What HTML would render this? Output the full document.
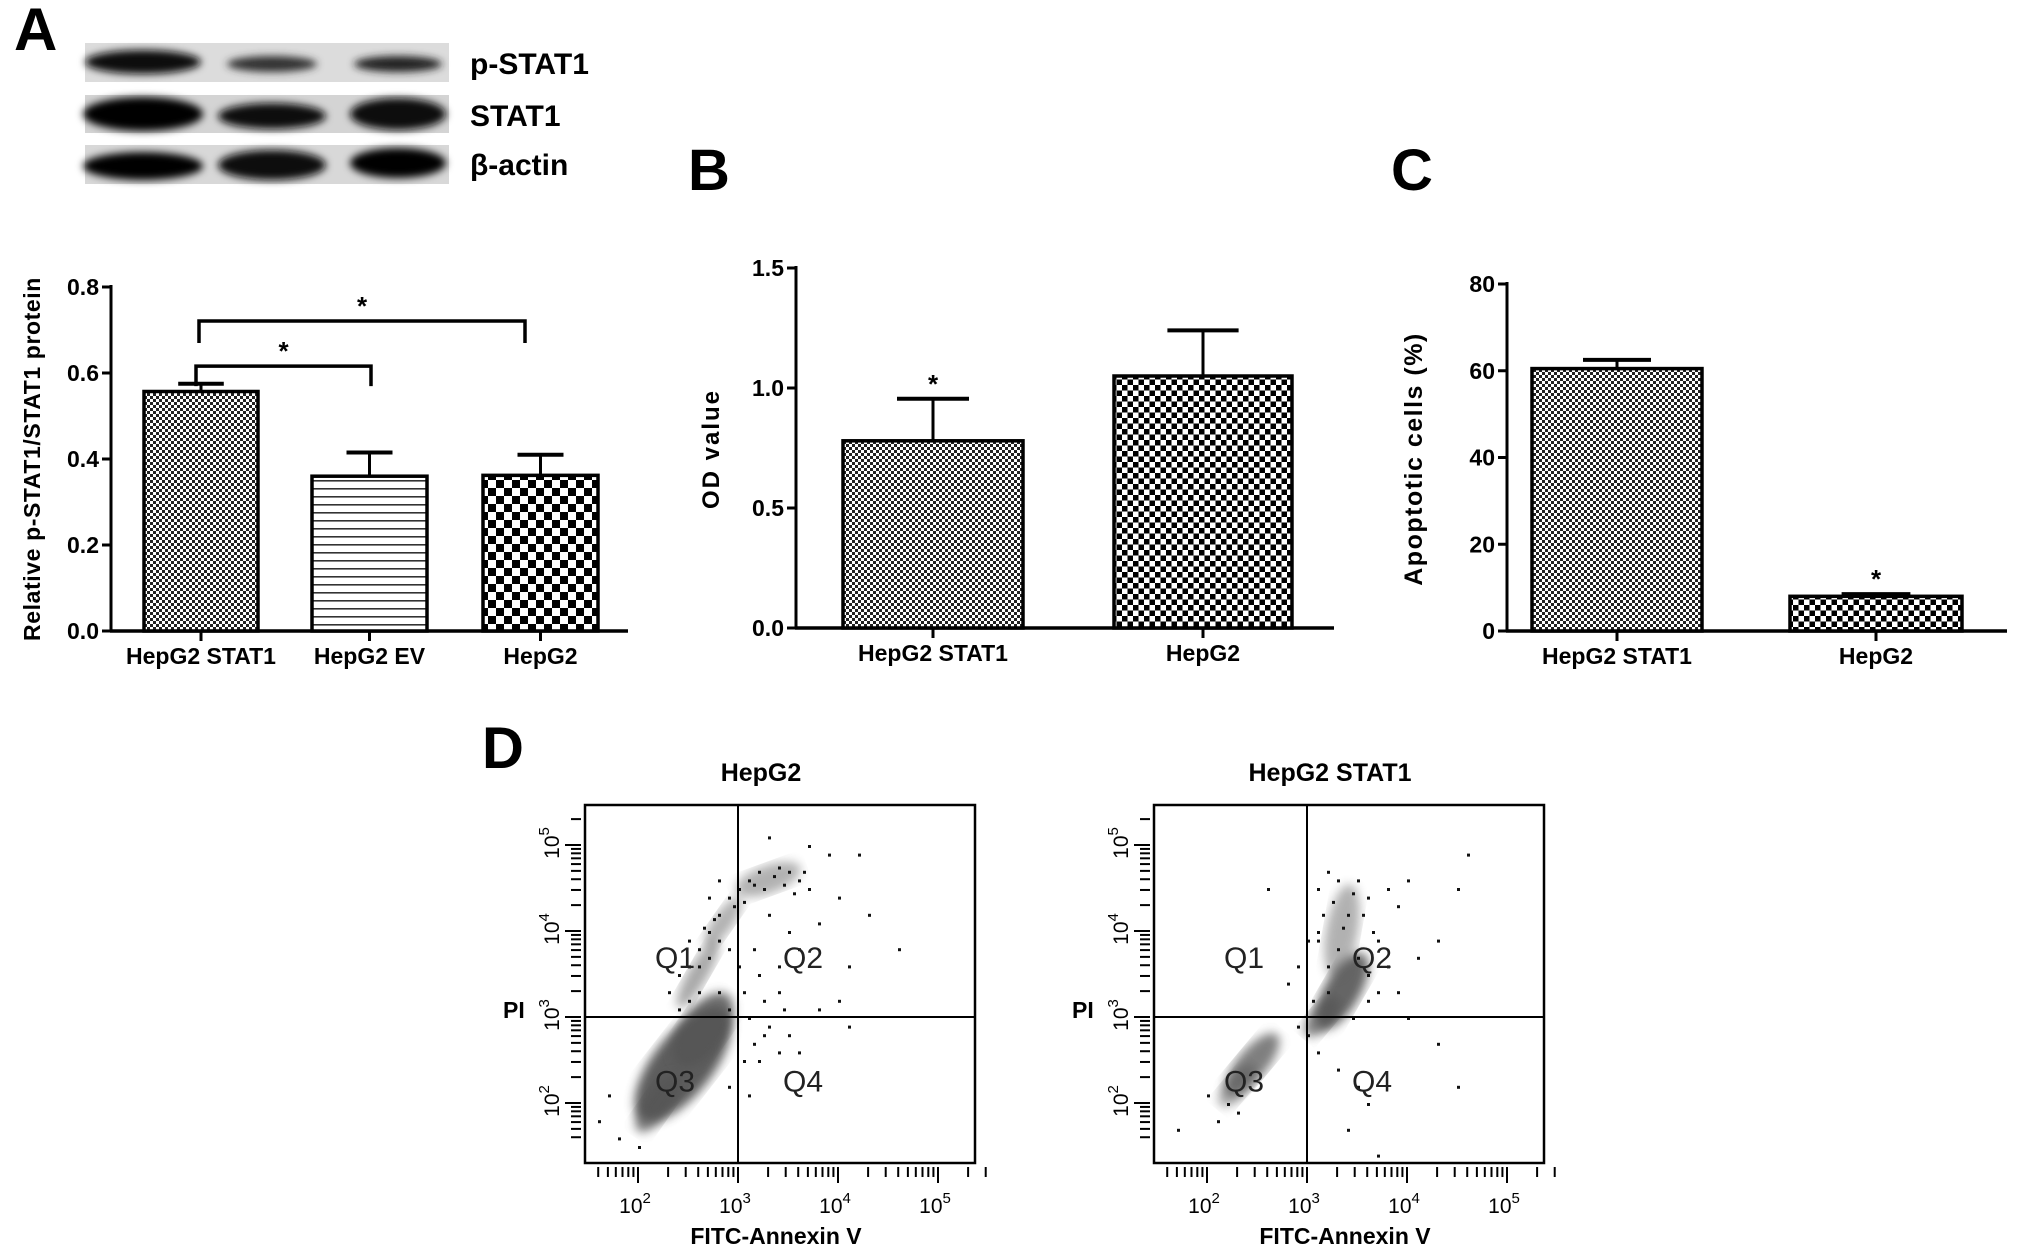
<!DOCTYPE html>
<html><head><meta charset="utf-8"><style>
html,body{margin:0;padding:0;background:#fff;}
svg{display:block;font-family:"Liberation Sans",Arial,sans-serif;font-weight:bold;}
</style></head><body>
<svg id="fig" width="2031" height="1252" viewBox="0 0 2031 1252" xmlns="http://www.w3.org/2000/svg">
<defs>
<pattern id="pFine" width="6" height="6" patternUnits="userSpaceOnUse"><rect width="6" height="6" fill="#fff"/><rect width="3" height="3" fill="#222"/><rect x="3" y="3" width="3" height="3" fill="#222"/></pattern>
<pattern id="pLines" width="6" height="8" patternUnits="userSpaceOnUse"><rect width="6" height="8" fill="#fff"/><rect y="0" width="6" height="1.6" fill="#333"/></pattern>
<pattern id="pBig" width="16" height="16" patternUnits="userSpaceOnUse"><rect width="16" height="16" fill="#fff"/><rect width="8" height="8" fill="#000"/><rect x="8" y="8" width="8" height="8" fill="#000"/></pattern>
<pattern id="pMid" width="11" height="11" patternUnits="userSpaceOnUse"><rect width="11" height="11" fill="#fff"/><rect width="5.5" height="5.5" fill="#000"/><rect x="5.5" y="5.5" width="5.5" height="5.5" fill="#000"/></pattern>
<filter id="blur" x="-20%" y="-50%" width="140%" height="200%"><feGaussianBlur stdDeviation="4"/></filter>
<filter id="blur2"><feGaussianBlur stdDeviation="5"/></filter>
</defs>

<text x="14" y="50" font-size="60">A</text>
<text x="688" y="190" font-size="58">B</text>
<text x="1391" y="190" font-size="58">C</text>
<text x="482" y="768" font-size="58">D</text>

<g id="blot">
<rect x="85" y="43" width="364" height="39" fill="#dcdcdc"/>
<rect x="85" y="95" width="364" height="38" fill="#d4d4d4"/>
<rect x="85" y="145" width="364" height="39" fill="#d8d8d8"/>
<g filter="url(#blur)">
<ellipse cx="143" cy="62" rx="58" ry="12" fill="#111"/>
<ellipse cx="272" cy="64" rx="45" ry="8" fill="#333"/>
<ellipse cx="398" cy="64" rx="44" ry="8" fill="#222"/>
<ellipse cx="143" cy="114" rx="60" ry="17" fill="#000"/>
<ellipse cx="272" cy="116" rx="54" ry="13" fill="#111"/>
<ellipse cx="398" cy="114" rx="48" ry="16" fill="#0a0a0a"/>
<ellipse cx="143" cy="166" rx="60" ry="14" fill="#000"/>
<ellipse cx="272" cy="165" rx="54" ry="15" fill="#0a0a0a"/>
<ellipse cx="398" cy="163" rx="48" ry="15" fill="#000"/>
</g>
</g>
<text x="470" y="74" font-size="30">p-STAT1</text>
<text x="470" y="126" font-size="30">STAT1</text>
<text x="470" y="175" font-size="30">β-actin</text>

<g id="chartA"></g>
<g id="chartB"></g>
<g id="chartC"></g>
<g id="flow1"></g>
<g id="flow2"></g>
</svg>
<script>
const catsA = ["HepG2 STAT1", "HepG2 EV", "HepG2"];
const valsA = [0.557, 0.360, 0.362];
const errA = [0.018, 0.055, 0.048];
const ticksA = [0.0, 0.2, 0.4, 0.6, 0.8];
const tickLabelsA = ["0.0", "0.2", "0.4", "0.6", "0.8"];

const catsB = ["HepG2 STAT1", "HepG2"];
const valsB = [0.78, 1.05];
const errB = [0.175, 0.19];
const ticksB = [0.0, 0.5, 1.0, 1.5];
const tickLabelsB = ["0.0", "0.5", "1.0", "1.5"];

const catsC = ["HepG2 STAT1", "HepG2"];
const valsC = [60.5, 8.0];
const errC = [2.0, 0.5];
const ticksC = [0, 20, 40, 60, 80];
const tickLabelsC = ["0", "20", "40", "60", "80"];

const flowDecades = [2, 3, 4, 5];
const flowDecadeLabels = ["2", "3", "4", "5"];
const hepg2Blobs = [[2.45, 2.45, 0.3, 0.8, 38, 0.95],[2.65, 2.85, 0.22, 0.5, 35, 0.85],[2.2, 2.0, 0.14, 0.4, 35, 0.75],[2.6, 3.5, 0.1, 0.45, 30, 0.5],[2.85, 4.1, 0.1, 0.35, 35, 0.45],[3.3, 4.6, 0.14, 0.4, 70, 0.45]];
const hepg2Points = [[2.6,3.8],[2.7,4.0],[2.8,4.2],[2.9,4.4],[3.0,4.5],[3.1,4.6],[3.2,4.7],[3.4,4.75],[3.5,4.7],[3.6,4.6],[3.7,4.5],[3.3,4.2],[3.5,4.0],[3.6,3.8],[3.8,4.1],[4.0,4.4],[4.3,4.2],[4.1,3.6],[3.2,3.5],[3.4,3.3],[3.1,3.0],[3.3,2.9],[3.5,2.8],[3.8,3.1],[4.0,3.2],[3.2,2.5],[3.6,2.6],[2.4,3.5],[2.5,3.2],[2.6,3.6],[2.7,4.4],[3.9,4.9],[4.2,4.9],[4.6,3.8],[4.1,2.9],[1.6,1.8],[1.8,1.6],[2.0,1.5],[2.9,2.2],[3.1,2.1],[1.7,2.1],[3.3,5.1],[3.7,5.0],[2.9,3.8],[3.0,3.6],[3.4,3.6],[2.8,4.6],[2.5,3.9],[2.6,3.3],[2.7,3.7],[2.8,3.3],[2.9,3.1],[2.8,3.9],[2.95,4.3],[3.05,4.35],[3.15,4.55],[3.25,4.5],[3.35,4.65],[3.45,4.55],[3.55,4.45],[3.65,4.7],[3.15,3.8],[3.25,3.2],[3.45,3.1],[3.05,3.3],[3.15,2.7],[3.25,2.8],[3.4,2.6],[3.05,2.5],[2.4,3.1],[2.3,3.3],[2.5,3.6],[2.65,4.05],[2.75,4.15]];
const stat1Blobs = [[2.45, 2.45, 0.15, 0.45, 40, 0.75],[2.3, 2.2, 0.12, 0.3, 40, 0.5],[3.35, 3.3, 0.18, 0.5, 30, 0.9],[3.15, 3.0, 0.12, 0.28, 40, 0.7],[3.35, 4.0, 0.16, 0.55, 10, 0.45]];
const stat1Points = [[3.1,4.5],[3.2,4.7],[3.3,4.6],[3.5,4.6],[3.6,4.4],[3.8,4.5],[3.9,4.3],[4.0,4.6],[3.4,4.2],[3.7,3.9],[3.8,3.6],[4.1,3.7],[4.3,3.9],[4.5,4.5],[2.9,3.6],[2.8,3.4],[3.0,3.9],[2.6,4.5],[4.6,4.9],[3.1,2.6],[3.3,2.4],[3.5,2.2],[3.6,2.0],[3.4,1.7],[3.7,1.4],[4.5,2.2],[4.3,2.7],[2.0,2.1],[2.1,1.8],[1.7,1.7],[2.2,2.0],[2.3,1.9],[3.0,2.8],[3.2,3.6],[3.6,3.2],[3.9,3.3],[4.0,3.0],[3.15,4.2],[3.25,4.35],[3.45,4.45],[3.55,4.2],[3.1,3.9],[3.3,3.8],[3.5,3.7],[3.6,3.5],[3.2,3.3],[3.45,3.0],[3.7,3.3],[3.05,3.2],[2.9,2.9],[3.1,4.0],[3.35,4.05],[3.65,4.0]];

const NS = "http://www.w3.org/2000/svg";
function mk(parent, tag, attrs, text) {
  const e = document.createElementNS(NS, tag);
  for (const k in attrs) e.setAttribute(k, attrs[k]);
  if (text !== undefined) e.textContent = text;
  parent.appendChild(e);
  return e;
}

function barChart(g, cfg) {
  const y = v => cfg.y0 - (v - cfg.min) / (cfg.max - cfg.min) * (cfg.y0 - cfg.yTop);
  const ax = mk(g, "line", {x1: cfg.x0, y1: cfg.yTop - 2, x2: cfg.x0, y2: cfg.y0 + 1, stroke: "#000", "stroke-width": 3});
  
  
  const bx = mk(g, "line", {x1: cfg.x0 - 1, y1: cfg.y0, x2: cfg.xEnd, y2: cfg.y0, stroke: "#000", "stroke-width": 3.5});
  
  
  cfg.ticks.forEach((t, i) => {
    const ty = y(t);
    const tl = mk(g, "line", {x1: cfg.x0 - 9, y1: ty, x2: cfg.x0, y2: ty, stroke: "#000", "stroke-width": 3});
    
    
    const lab = mk(g, "text", {x: cfg.x0 - 12, y: ty + 8, "text-anchor": "end", "font-size": cfg.tfs}, cfg.tickLabels[i]);
    
    
  });
  cfg.cats.forEach((c, i) => {
    const x1 = cfg.bx[i][0], x2 = cfg.bx[i][1], cx = (x1 + x2) / 2;
    const top = y(cfg.vals[i]), et = y(cfg.vals[i] + cfg.errs[i]);
    const el = mk(g, "line", {x1: cx, y1: top, x2: cx, y2: et, stroke: "#000", "stroke-width": 3});
    
    
    const cap = mk(g, "line", {x1: cx - (x2 - x1) * 0.2, y1: et, x2: cx + (x2 - x1) * 0.2, y2: et, stroke: "#000", "stroke-width": 4});
    
    
    const r = mk(g, "rect", {x: x1, y: top, width: x2 - x1, height: cfg.y0 - top, fill: "url(#" + cfg.pats[i] + ")", stroke: "#000", "stroke-width": 3.5});
    
    
    const tk = mk(g, "line", {x1: cx, y1: cfg.y0, x2: cx, y2: cfg.y0 + 10, stroke: "#000", "stroke-width": 3});
    
    
    const lab = mk(g, "text", {x: cx, y: cfg.y0 + 33, "text-anchor": "middle", "font-size": cfg.fs}, c);
    
    
    if (cfg.stars && cfg.stars[i]) {
      const s = mk(g, "text", {x: cx, y: et - 6, "text-anchor": "middle", "font-size": 26}, "*");
      
      
    }
  });
  const yt = mk(g, "text", {x: 0, y: 0, "text-anchor": "middle", "font-size": cfg.ttfs, "letter-spacing": cfg.ls || 0, transform: "translate(" + cfg.titleX + "," + cfg.titleY + ") rotate(-90)"}, cfg.title);
  
  
  return y;
}

const gA = document.getElementById("chartA");
const yA = barChart(gA, {x0: 111, y0: 631, yTop: 287, xEnd: 628, min: 0, max: 0.8, ticks: ticksA, tickLabels: tickLabelsA,
  cats: catsA, vals: valsA, errs: errA, bx: [[144, 258], [312, 427], [483, 598]], pats: ["pFine", "pLines", "pBig"],
  fs: 23, tfs: 23, ttfs: 23, ls: 0.6, title: "Relative p-STAT1/STAT1 protein", titleX: 40, titleY: 459});
function bracket(g, xa, xb, v, drop, name) {
  const yy = yA(v);
  const p = mk(g, "path", {d: "M" + xa + "," + (yy + drop) + " L" + xa + "," + yy + " L" + xb + "," + yy + " L" + xb + "," + (yy + drop), fill: "none", stroke: "#000", "stroke-width": 3.5});
  
  
  const s = mk(g, "text", {x: (xa + xb) / 2, y: yy - 6, "text-anchor": "middle", "font-size": 26}, "*");
  
  
}
bracket(gA, 199, 525, 0.721, 22, "bracket-stat1-vs-hepg2");
bracket(gA, 196, 371, 0.616, 20, "bracket-stat1-vs-ev");

barChart(document.getElementById("chartB"), {x0: 796, y0: 628, yTop: 268, xEnd: 1334, min: 0, max: 1.5, ticks: ticksB, tickLabels: tickLabelsB,
  cats: catsB, vals: valsB, errs: errB, bx: [[843, 1023], [1114, 1292]], pats: ["pFine", "pMid"], stars: [true, false],
  fs: 23, tfs: 23, ttfs: 24, ls: 2, title: "OD value", titleX: 719, titleY: 449});

barChart(document.getElementById("chartC"), {x0: 1507, y0: 631, yTop: 284, xEnd: 2007, min: 0, max: 80, ticks: ticksC, tickLabels: tickLabelsC,
  cats: catsC, vals: valsC, errs: errC, bx: [[1532, 1702], [1790, 1962]], pats: ["pFine", "pMid"], stars: [false, true],
  fs: 23, tfs: 23, ttfs: 25, ls: 1.5, title: "Apoptotic cells (%)", titleX: 1422, titleY: 459});

function flow(g, left, title, blobs, pts) {
  const top = 805, bottom = 1163, W = 390, right = left + W;
  const fx = v => left + 153 + (v - 3) * 100;
  const fy = v => 1017 - (v - 3) * 86;
  const t = mk(g, "text", {x: left + 176, y: 781, "text-anchor": "middle", "font-size": 25}, title);
  
  
  const clip = "clip" + left;
  const cp = mk(g, "clipPath", {id: clip});
  mk(cp, "rect", {x: left, y: top, width: W, height: bottom - top});
  const cg = mk(g, "g", {"clip-path": "url(#" + clip + ")"});
  blobs.forEach(b => {
    const e = mk(cg, "ellipse", {cx: fx(b[0]), cy: fy(b[1]), rx: b[2] * 100, ry: b[3] * 86, fill: "#555", opacity: b[5], filter: "url(#blur2)", transform: "rotate(" + b[4] + " " + fx(b[0]) + " " + fy(b[1]) + ")"});
    
    
  });
  pts.forEach(p => {
    const c = mk(cg, "rect", {x: fx(p[0]), y: fy(p[1]), width: 3, height: 3, fill: "#111"});
    
    
  });
  const box = mk(g, "rect", {x: left, y: top, width: W, height: bottom - top, fill: "none", stroke: "#000", "stroke-width": 2.5});
  
  
  const vl = mk(g, "line", {x1: fx(3), y1: top, x2: fx(3), y2: bottom, stroke: "#000", "stroke-width": 2});
  
  
  const hl = mk(g, "line", {x1: left, y1: fy(3), x2: right, y2: fy(3), stroke: "#000", "stroke-width": 2});
  
  
  [["Q1", 2.37, 3.7], ["Q2", 3.65, 3.7], ["Q3", 2.37, 2.26], ["Q4", 3.65, 2.26]].forEach(q => {
    const tq = mk(g, "text", {x: fx(q[1]), y: fy(q[2]) + 11, "text-anchor": "middle", "font-size": 30, "font-weight": "normal", fill: "#222"}, q[0]);
    
    
  });
  for (let d = 1; d <= 5; d++) {
    for (let m = 1; m <= 9; m++) {
      const v = d + Math.log10(m);
      if (v < 1.55 || v > 5.5) continue;
      const len = m === 1 ? 16 : 10;
      const xx = fx(v);
      mk(g, "line", {x1: xx, y1: bottom + 4, x2: xx, y2: bottom + 4 + len, stroke: "#000", "stroke-width": 2});
      const yy = fy(v);
      if (yy > top + 5 && yy < bottom - 3) mk(g, "line", {x1: left - 4 - len, y1: yy, x2: left - 4, y2: yy, stroke: "#000", "stroke-width": 2});
    }
  }
  flowDecades.forEach((d, i) => {
    const xl = mk(g, "text", {x: fx(d) - 3, y: bottom + 50, "text-anchor": "middle", "font-size": 21, "font-weight": "normal"});
    xl.textContent = "10";
    mk(xl, "tspan", {dy: -10, "font-size": 15}, flowDecadeLabels[i]);
    
    
    const yl = mk(g, "text", {x: 0, y: 0, "text-anchor": "middle", "font-size": 21, "font-weight": "normal", transform: "translate(" + (left - 26) + "," + (fy(d) - 2) + ") rotate(-90)"});
    yl.textContent = "10";
    mk(yl, "tspan", {dy: -10, "font-size": 15}, flowDecadeLabels[i]);
    
    
  });
  const xt = mk(g, "text", {x: left + 191, y: 1244, "text-anchor": "middle", "font-size": 23}, "FITC-Annexin V");
  
  
  const yt = mk(g, "text", {x: left - 82, y: 1018, "font-size": 23}, "PI");
  
  
}
flow(document.getElementById("flow1"), 585, "HepG2", hepg2Blobs, hepg2Points);
flow(document.getElementById("flow2"), 1154, "HepG2 STAT1", stat1Blobs, stat1Points);
</script>
</body></html>
